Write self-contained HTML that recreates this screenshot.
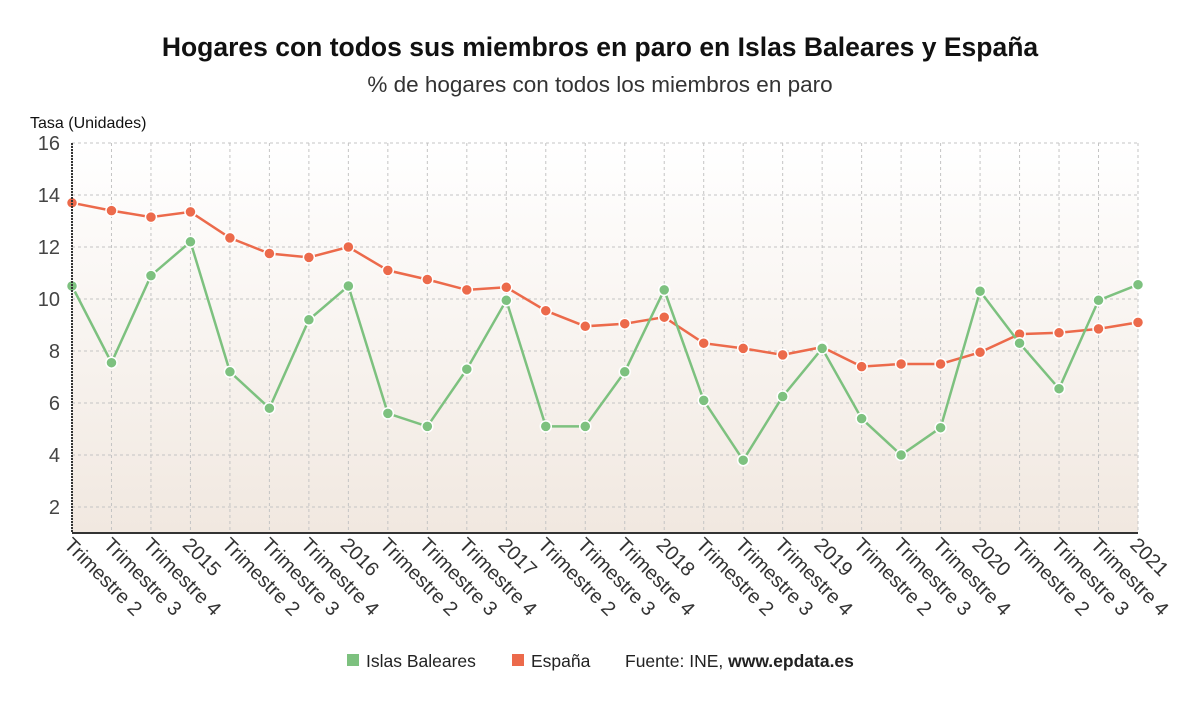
<!DOCTYPE html>
<html><head><meta charset="utf-8"><style>
body{margin:0;background:#fff;width:1200px;height:705px;overflow:hidden;font-family:"Liberation Sans","DejaVu Sans",sans-serif}
</style></head><body>
<svg id="chart" width="1200" height="705" xmlns="http://www.w3.org/2000/svg">
<defs><linearGradient id="bg" x1="0" y1="0" x2="0" y2="1"><stop offset="0" stop-color="#ffffff"/><stop offset="1" stop-color="#f1e8e0"/></linearGradient></defs>
<text x="600" y="56" text-anchor="middle" font-size="26.5" font-weight="bold" fill="#111">Hogares con todos sus miembros en paro en Islas Baleares y España</text>
<text x="600" y="92" text-anchor="middle" font-size="22.5" fill="#333">% de hogares con todos los miembros en paro</text>
<text x="30" y="128" font-size="16" fill="#111">Tasa (Unidades)</text>
<rect x="72" y="143" width="1066" height="390" fill="url(#bg)"/>
<g id="grid"></g><g id="series"></g><g id="axes"></g>
<g font-size="17.5" fill="#222">
<rect x="347" y="654" width="12" height="12" fill="#7dc17f"/>
<text x="366" y="667">Islas Baleares</text>
<rect x="512" y="654" width="12" height="12" fill="#ec6a4b"/>
<text x="531" y="667">España</text>
<text x="625" y="667">Fuente: INE, <tspan font-weight="bold">www.epdata.es</tspan></text>
</g>
</svg>
<script>
const categories=["Trimestre 2","Trimestre 3","Trimestre 4","2015","Trimestre 2","Trimestre 3","Trimestre 4","2016","Trimestre 2","Trimestre 3","Trimestre 4","2017","Trimestre 2","Trimestre 3","Trimestre 4","2018","Trimestre 2","Trimestre 3","Trimestre 4","2019","Trimestre 2","Trimestre 3","Trimestre 4","2020","Trimestre 2","Trimestre 3","Trimestre 4","2021"];
const baleares=[10.5,7.55,10.9,12.2,7.2,5.8,9.2,10.5,5.6,5.1,7.3,9.95,5.1,5.1,7.2,10.35,6.1,3.8,6.25,8.1,5.4,4.0,5.05,10.3,8.3,6.55,9.95,10.55];
const espana=[13.7,13.4,13.15,13.35,12.35,11.75,11.6,12.0,11.1,10.75,10.35,10.45,9.55,8.95,9.05,9.3,8.3,8.1,7.85,8.15,7.4,7.5,7.5,7.95,8.65,8.7,8.85,9.1];
const yTicks=[2,4,6,8,10,12,14,16];
const NS="http://www.w3.org/2000/svg";
const X0=72,X1=1138,YT=143,YB=533,YMIN=1,YMAX=16;
const xs=i=>X0+(X1-X0)*i/(categories.length-1);
const ys=v=>YB-(v-YMIN)/(YMAX-YMIN)*(YB-YT);
function mk(tag,attrs,parent){const e=document.createElementNS(NS,tag);for(const k in attrs)e.setAttribute(k,attrs[k]);parent.appendChild(e);return e;}
const grid=document.getElementById('grid'),axes=document.getElementById('axes'),ser=document.getElementById('series');
yTicks.forEach(t=>{
 const l=mk('line',{x1:X0,x2:X1,y1:ys(t),y2:ys(t),stroke:'#c4c4c4','stroke-dasharray':'3,3'},grid);
 
 
 const tx=mk('text',{x:X0-12,y:ys(t)+7,'text-anchor':'end','font-size':20,fill:'#444'},axes);
 tx.textContent=t;
 
 
});
categories.forEach((c,i)=>{
 const l=mk('line',{x1:xs(i),x2:xs(i),y1:YT,y2:YB,stroke:'#c4c4c4','stroke-dasharray':'3,3'},grid);
 
 
 const tx=mk('text',{x:xs(i)-9,y:YB+13,'font-size':20,fill:'#333',transform:`rotate(45 ${xs(i)-9} ${YB+13})`},axes);
 tx.textContent=c;
 
 
});
const ya=mk('line',{x1:X0,x2:X0,y1:YT,y2:YB,stroke:'#333','stroke-width':2,'stroke-dasharray':'2,1'},axes);


const xa=mk('line',{x1:X0,x2:X1,y1:YB,y2:YB,stroke:'#333','stroke-width':2},axes);


function draw(data,color,name){
 const p=mk('polyline',{points:data.map((v,i)=>xs(i)+','+ys(v)).join(' '),fill:'none',stroke:color,'stroke-width':2.5},ser);
 
 
 data.forEach((v,i)=>{
  const c=mk('circle',{cx:xs(i),cy:ys(v),r:5.5,fill:color,stroke:'#fff','stroke-width':1.5},ser);
  
  
 });
}
draw(espana,'#ec6a4b','espana');
draw(baleares,'#7dc17f','baleares');
</script>
</body></html>
